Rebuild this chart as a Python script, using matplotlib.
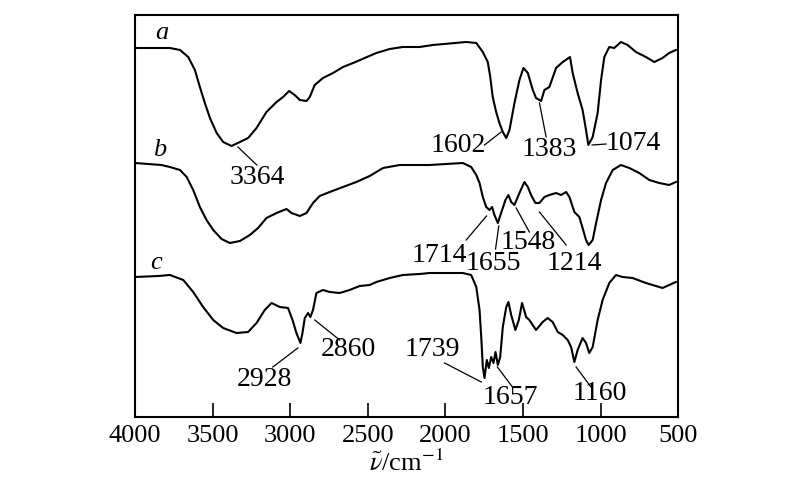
import matplotlib
matplotlib.use("Agg")
import matplotlib.pyplot as plt

plt.rcParams['font.family'] = ['Liberation Serif', 'DejaVu Serif']
plt.rcParams['mathtext.fontset'] = 'stix'

# Wavenumbers (cm^-1) and arbitrary transmittance values (offset curves)
a_w = [4000, 3850, 3775, 3710, 3657, 3614, 3582, 3550, 3517, 3474, 3432, 3378, 3324, 3271, 3217,
       3153, 3088, 3046, 3007, 2971, 2938, 2895, 2874, 2842, 2789, 2724, 2660, 2595, 2520, 2445,
       2359, 2274, 2166, 2081, 1866, 1801, 1759, 1727, 1711, 1695, 1673, 1652, 1630, 1608, 1587,
       1555, 1523, 1497, 1469, 1437, 1416, 1383, 1362, 1330, 1287, 1244, 1197, 1180, 1148, 1116,
       1094, 1079, 1051, 1019, 997, 976, 944, 912, 869, 826, 772, 708, 654, 601, 558, 515]
a_y = [370, 370, 370, 368, 361, 348, 331, 315, 300, 285, 276, 272, 276, 280, 290,
       306, 316, 321, 327, 323, 318, 317, 321, 333, 340, 345, 351, 355, 360, 365,
       369, 371, 371, 373, 376, 375, 366, 356, 341, 321, 306, 295, 286, 280, 288,
       315, 338, 350, 345, 328, 320, 317, 328, 331, 350, 356, 361, 345, 325, 308,
       288, 273, 281, 305, 338, 361, 371, 370, 376, 373, 366, 361, 356, 360, 365, 368]

b_w = [4000, 3830, 3775, 3710, 3667, 3625, 3582, 3539, 3496, 3442, 3389, 3324, 3260, 3207, 3153,
       3088, 3024, 2992, 2938, 2895, 2853, 2810, 2745, 2660, 2574, 2488, 2402, 2295, 2166, 2102,
       1888, 1834, 1801, 1780, 1759, 1737, 1716, 1699, 1684, 1662, 1641, 1613, 1594, 1576, 1555,
       1523, 1491, 1469, 1448, 1420, 1394, 1362, 1330, 1287, 1255, 1222, 1201, 1169, 1137, 1116,
       1094, 1077, 1051, 1029, 997, 965, 922, 869, 815, 751, 686, 622, 558, 515]
b_y = [255, 253, 251, 248, 241, 228, 211, 198, 188, 179, 175, 177, 183, 190, 200,
       205, 209, 205, 202, 205, 215, 222, 226, 231, 236, 242, 250, 253, 253, 253,
       255, 251, 243, 235, 221, 211, 208, 211, 203, 195, 205, 218, 223, 216, 213,
       225, 236, 231, 223, 215, 215, 221, 223, 225, 223, 226, 221, 206, 201, 190,
       178, 173, 178, 195, 218, 235, 248, 253, 250, 245, 238, 235, 233, 236]

c_w = [4000, 3850, 3775, 3689, 3625, 3561, 3496, 3432, 3346, 3271, 3217, 3164, 3120, 3067, 3014,
       2985, 2960, 2934, 2921, 2906, 2885, 2870, 2853, 2831, 2789, 2745, 2681, 2617, 2552, 2488,
       2445, 2359, 2274, 2166, 2102, 1888, 1834, 1801, 1780, 1769, 1759, 1748, 1733, 1720, 1705,
       1690, 1677, 1662, 1647, 1630, 1608, 1594, 1576, 1549, 1527, 1506, 1480, 1459, 1416, 1373,
       1341, 1309, 1276, 1244, 1212, 1190, 1169, 1148, 1116, 1094, 1073, 1051, 1019, 987, 944,
       901, 858, 794, 708, 601, 515]
c_y = [141, 142, 143, 138, 126, 111, 98, 90, 85, 86, 95, 108, 115, 111, 110,
       98, 85, 75, 85, 100, 105, 101, 108, 125, 128, 126, 125, 128, 132, 133,
       136, 140, 143, 144, 145, 145, 143, 131, 108, 81, 51, 40, 58, 50, 61,
       55, 66, 53, 61, 91, 111, 116, 103, 88, 98, 115, 101, 98, 88, 96,
       100, 96, 86, 83, 78, 71, 56, 68, 80, 75, 65, 71, 98, 118, 135,
       143, 141, 140, 135, 130, 136]

curve_names = ['a', 'b', 'c']
curve_name_pos = [(3826, 385), (3839, 268), (3865, 155)]

peak_labels = ['3364', '1602', '1383', '1074',
               '1714', '1655', '1548', '1214',
               '2928', '2860', '1739', '1657', '1160']
peak_text_pos = [(3215, 240), (1915, 273), (1330, 268), (789, 274),
                 (2038, 162), (1690, 154), (1465, 175), (1169, 154),
                 (3164, 39), (2623, 69), (2083, 69), (1581, 21), (1002, 24)]
peak_lines = [((3337, 271), (3215, 253)), ((1748, 273), (1641, 286)),
              ((1394, 315), (1351, 281)), ((1055, 273), (965, 274)),
              ((1866, 178), (1735, 202)), ((1677, 169), (1656, 192)),
              ((1544, 210), (1459, 186)), ((1394, 206), (1222, 173)),
              ((3112, 51), (2951, 70)), ((2842, 98), (2681, 78)),
              ((2005, 55), (1769, 36)), ((1665, 51), (1568, 31)),
              ((1158, 51), (1062, 31))]

xticks = [4000, 3500, 3000, 2500, 2000, 1500, 1000, 500]

fig = plt.figure(figsize=(8, 4.93), dpi=100)
ax = fig.add_axes([0.16875, 1 - 417 / 493, 0.679, 402 / 493])

for w, y in [(a_w, a_y), (b_w, b_y), (c_w, c_y)]:
    ax.plot(w, y, color='black', lw=1.5, solid_joinstyle='round')

for name, (x, y) in zip(curve_names, curve_name_pos):
    ax.text(x, y, name, fontsize=19, style='italic', ha='center', va='center')

for lab, (tx, ty), ((x1, y1), (x2, y2)) in zip(peak_labels, peak_text_pos, peak_lines):
    ax.text(tx, ty, lab, fontsize=20, ha='center', va='center')
    ax.plot([x1, x2], [y1, y2], color='black', lw=0.9)

ax.set_xlim(4000, 500)
ax.set_ylim(1, 403)
ax.set_xticks(xticks)
ax.set_xticklabels([str(t) for t in xticks])
ax.set_yticks([])
ax.tick_params(axis='x', direction='in', length=10, width=1.2, labelsize=19, pad=6)
for s in ax.spines.values():
    s.set_linewidth(1.5)
ax.set_xlabel(r'$\tilde{\nu}$/cm$^{-1}$', fontsize=19, labelpad=2)

fig.savefig('out.png', dpi=100)
